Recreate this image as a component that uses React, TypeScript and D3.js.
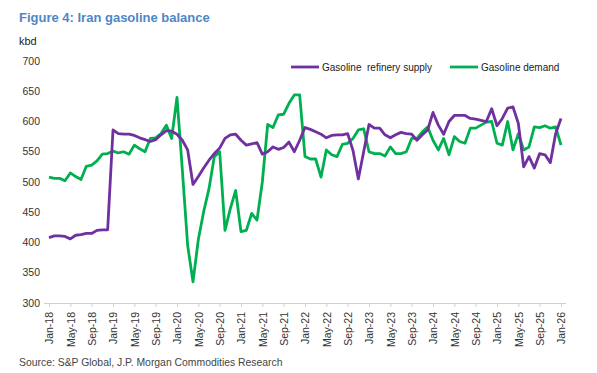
import { useEffect, useRef } from 'react';
import * as d3 from 'd3';

// monthly, Jan-18 .. Jan-26
const months = d3.timeMonth
  .range(new Date(2018, 0, 1), new Date(2026, 1, 1))
  .map(d => d3.timeFormat('%b-%y')(d));

const tickLabels = [
  'Jan-18', 'May-18', 'Sep-18', 'Jan-19', 'May-19', 'Sep-19', 'Jan-20', 'May-20', 'Sep-20',
  'Jan-21', 'May-21', 'Sep-21', 'Jan-22', 'May-22', 'Sep-22', 'Jan-23', 'May-23', 'Sep-23',
  'Jan-24', 'May-24', 'Sep-24', 'Jan-25', 'May-25', 'Sep-25', 'Jan-26',
];

const yTicks = [300, 350, 400, 450, 500, 550, 600, 650, 700];

const supply = [
  408, 411, 411, 410, 406, 412, 413, 415, 415, 420, 421, 421,
  586, 580, 579, 579, 577, 573, 570, 567, 570, 578, 585, 584,
  579, 569, 553, 496, 509, 523, 536, 547, 556, 572, 578, 579,
  569, 561, 563, 565, 546, 550, 558, 554, 557, 566, 550, 569,
  590, 587, 583, 579, 573, 577, 578, 578, 580, 552, 505, 550,
  595, 589, 589, 578, 573, 578, 582, 580, 579, 569, 578, 586,
  615, 594, 579, 600, 610, 610, 610, 605, 604, 602, 600, 621,
  593, 605, 622, 624, 597, 525, 542, 523, 547, 545, 532, 580,
  605,
];

const demand = [
  508, 506, 506, 502, 515, 509, 504, 526, 528, 535, 546, 547,
  551, 548, 550, 546, 561, 555, 550, 572, 573, 580, 594, 572,
  640, 520, 395, 335, 405, 451, 489, 542, 550, 420, 456, 486,
  418, 420, 448, 437, 500, 595, 590, 611, 612, 630, 644, 644,
  542, 538, 538, 508, 553, 545, 542, 562, 564, 572, 586, 588,
  550, 547, 547, 543, 558, 547, 547, 550, 572, 572, 583, 591,
  569, 553, 572, 545, 575, 567, 564, 589, 589, 594, 599, 600,
  564, 561, 600, 553, 580, 553, 558, 591, 590, 593, 589, 591,
  561,
];

const SUPPLY_COLOR = '#7030a0';
const DEMAND_COLOR = '#00b050';
const FONT = '"Liberation Sans", Arial, sans-serif';

export default function App() {
  const svgRef = useRef<SVGSVGElement>(null);
  const width = 597;
  const height = 373;

  useEffect(() => {
    if (!svgRef.current) return;
    const svg = d3.select(svgRef.current);
    svg.selectAll('*').remove();

    const x = d3.scalePoint<string>().domain(months).range([49, 561]);
    const y = d3.scaleLinear().domain([300, 700]).range([303, 61]);

    // title + unit
    svg.append('text')
      .attr('x', 19).attr('y', 22)
      .attr('font-family', FONT).attr('font-size', 13).attr('font-weight', 'bold')
      .attr('fill', '#4f86c6')
      .text('Figure 4: Iran gasoline balance');

    svg.append('text')
      .attr('x', 19).attr('y', 45)
      .attr('font-family', FONT).attr('font-size', 11).attr('fill', '#222')
      .text('kbd');

    // y labels (no axis line)
    svg.append('g')
      .selectAll('text')
      .data(yTicks)
      .enter()
      .append('text')
      .attr('x', 40)
      .attr('y', d => y(d))
      .attr('dy', '0.35em')
      .attr('text-anchor', 'end')
      .attr('font-family', FONT).attr('font-size', 10.5).attr('fill', '#333')
      .text(d => d);

    // x axis
    const xAxis = svg.append('g')
      .attr('transform', 'translate(0,303)')
      .call(d3.axisBottom(x).tickValues(tickLabels).tickSize(4).tickSizeOuter(0));
    xAxis.select('.domain').attr('stroke', '#d0d0d0').attr('d', 'M44,0.5H566');
    xAxis.selectAll('.tick line').attr('stroke', '#d0d0d0');
    xAxis.selectAll('.tick text')
      .attr('transform', 'rotate(-90)')
      .attr('x', -9).attr('y', 0).attr('dy', '0.35em')
      .attr('text-anchor', 'end')
      .attr('font-family', FONT).attr('font-size', 10.5).attr('fill', '#333');

    // lines
    const line = d3.line<number>()
      .x((d, i) => x(months[i]) as number)
      .y(d => y(d));

    svg.append('path')
      .datum(demand)
      .attr('d', line)
      .attr('fill', 'none')
      .attr('stroke', DEMAND_COLOR)
      .attr('stroke-width', 2.8)
      .attr('stroke-linejoin', 'round');

    svg.append('path')
      .datum(supply)
      .attr('d', line)
      .attr('fill', 'none')
      .attr('stroke', SUPPLY_COLOR)
      .attr('stroke-width', 2.8)
      .attr('stroke-linejoin', 'round');

    // legend
    const legend = [
      { label: 'Gasoline  refinery supply', color: SUPPLY_COLOR, x: 291 },
      { label: 'Gasoline demand', color: DEMAND_COLOR, x: 450 },
    ];
    const lg = svg.append('g');
    legend.forEach(l => {
      lg.append('line')
        .attr('x1', l.x).attr('x2', l.x + 28)
        .attr('y1', 67).attr('y2', 67)
        .attr('stroke', l.color).attr('stroke-width', 2.8);
      lg.append('text')
        .attr('x', l.x + 31).attr('y', 67)
        .attr('dy', '0.35em')
        .attr('font-family', FONT).attr('font-size', 10).attr('fill', '#222')
        .style('white-space', 'pre')
        .text(l.label);
    });

    // source
    svg.append('text')
      .attr('x', 19).attr('y', 366)
      .attr('font-family', FONT).attr('font-size', 10.4).attr('fill', '#444')
      .text('Source: S&P Global, J.P. Morgan Commodities Research');
  }, []);

  return (
    <svg
      ref={svgRef}
      width={width}
      height={height}
      style={{ position: 'absolute', left: 0, top: 0, background: '#fff' }}
    />
  );
}
